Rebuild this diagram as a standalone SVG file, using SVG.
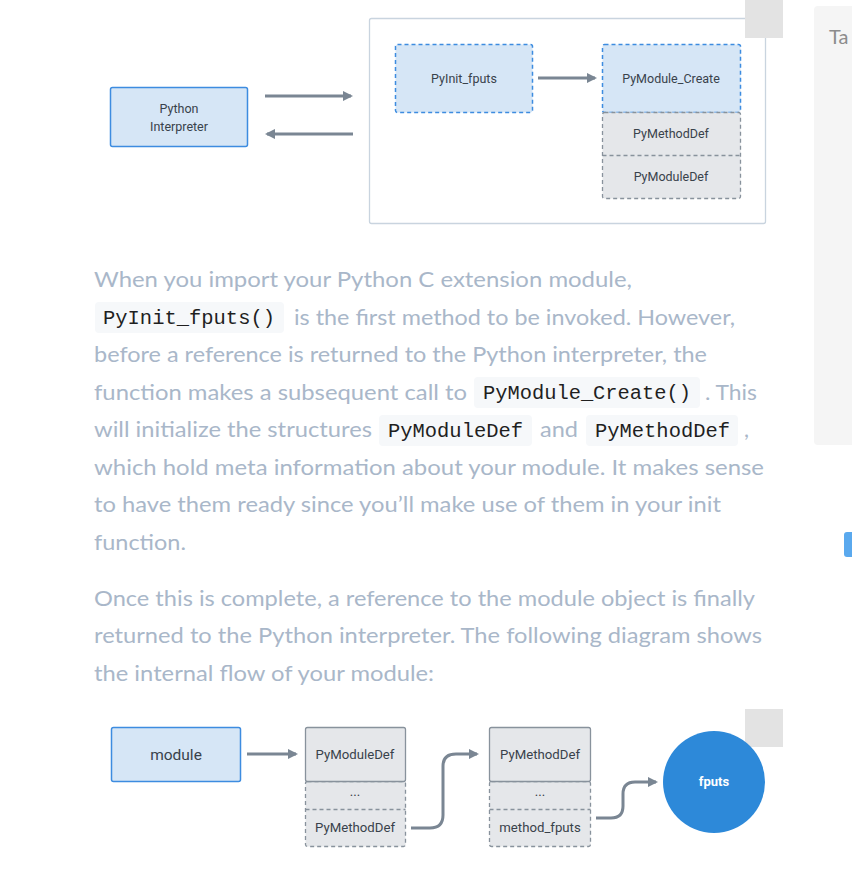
<svg xmlns="http://www.w3.org/2000/svg" width="852" height="873" viewBox="0 0 852 873">
<style>
.p{font-family:Lato,"Source Sans Pro","Liberation Sans",sans-serif;font-size:22px;fill:#a9b7c9}
.c{font-family:"Liberation Mono","DejaVu Sans Mono",monospace;font-size:20px;fill:#1f1f1f}
.cb{fill:#f6f8fa}
.t{font-family:Roboto,"Liberation Sans",sans-serif;font-size:12.5px;fill:#39424b;text-anchor:middle}
.b{font-family:Roboto,"Liberation Sans",sans-serif;font-size:13.2px;fill:#39424b;text-anchor:middle}
.blue{fill:#d6e6f6;stroke:#3d8ce0;stroke-width:1.5}
.bluedash{fill:#d6e6f6;stroke:#3d8ce0;stroke-width:1.5;stroke-dasharray:4 3}
.gray{fill:#e5e7ea;stroke:#88929c;stroke-width:1.3}
.graydash{fill:#e5e7ea;stroke:#88929c;stroke-width:1.3;stroke-dasharray:4 3}
.conn{fill:none;stroke:#7a8693;stroke-width:3;marker-end:url(#ah)}
</style>
<defs>
<marker id="ah" viewBox="0 0 10 10" refX="8" refY="5" markerWidth="3.4" markerHeight="3.4" orient="auto" markerUnits="strokeWidth">
<path d="M0,0 L10,5 L0,10 z" fill="#7a8693"/>
</marker>
</defs>
<rect width="852" height="873" fill="#ffffff"/>

<!-- side panel -->
<rect x="814" y="6" width="50" height="439" rx="4" fill="#f5f5f5"/>
<text x="829" y="44" font-family="Lato,'Liberation Sans',sans-serif" font-size="20" fill="#8c8c8c">Ta</text>
<rect x="844" y="532" width="14" height="25" rx="3" fill="#5aa9ee"/>

<!-- top diagram -->
<g id="container"><rect x="369.5" y="18.5" width="396" height="205" rx="2" fill="#ffffff" stroke="#c9d4df" stroke-width="1.3"/></g>
<rect x="745" y="0" width="38" height="38" fill="#e3e3e3"/>

<g id="python-interpreter">
<rect class="blue" x="110.5" y="87.5" width="137" height="59" rx="2"/>
<text class="t" x="179" y="113">Python</text>
<text class="t" x="179" y="131">Interpreter</text>
</g>
<g id="pyinit-fputs">
<rect class="bluedash" x="395.5" y="44.5" width="137" height="68" rx="2"/>
<text class="t" x="464" y="83">PyInit_fputs</text>
</g>
<g id="pymodule-create">
<rect class="bluedash" x="602.5" y="44.5" width="138" height="68" rx="2"/>
<text class="t" x="671" y="83">PyModule_Create</text>
</g>
<g id="top-defs">
<rect class="graydash" x="602.5" y="112.5" width="138" height="86" rx="2"/>
<line x1="602.5" y1="155.5" x2="740.5" y2="155.5" stroke="#88929c" stroke-width="1.3" stroke-dasharray="4 3"/>
<text class="t" x="671" y="138">PyMethodDef</text>
<text class="t" x="671" y="181">PyModuleDef</text>
</g>

<g id="connectors-top">
<line class="conn" x1="265" y1="96" x2="351" y2="96"/>
<line class="conn" x1="353" y1="134" x2="267" y2="134"/>
<line class="conn" x1="538" y1="78" x2="595" y2="78"/>
</g>

<!-- paragraph -->
<g id="text">
<text class="p" x="94" y="287" textLength="538" lengthAdjust="spacingAndGlyphs">When you import your Python C extension module,</text>
<rect class="cb" x="95" y="302" width="189" height="31" rx="4"/>
<text class="c" x="103" y="324" textLength="172" lengthAdjust="spacingAndGlyphs">PyInit_fputs()</text>
<text class="p" x="294" y="325" textLength="441" lengthAdjust="spacingAndGlyphs">is the first method to be invoked. However,</text>
<text class="p" x="94" y="362" textLength="613" lengthAdjust="spacingAndGlyphs">before a reference is returned to the Python interpreter, the</text>
<text class="p" x="94" y="400" textLength="373" lengthAdjust="spacingAndGlyphs">function makes a subsequent call to</text>
<rect class="cb" x="474" y="377" width="226" height="31" rx="4"/>
<text class="c" x="483" y="399" textLength="208" lengthAdjust="spacingAndGlyphs">PyModule_Create()</text>
<text class="p" x="705" y="400" textLength="52" lengthAdjust="spacingAndGlyphs">. This</text>
<text class="p" x="94" y="437" textLength="278" lengthAdjust="spacingAndGlyphs">will initialize the structures</text>
<rect class="cb" x="379" y="415" width="153" height="31" rx="4"/>
<text class="c" x="388" y="437" textLength="135" lengthAdjust="spacingAndGlyphs">PyModuleDef</text>
<text class="p" x="540" y="437" textLength="38" lengthAdjust="spacingAndGlyphs">and</text>
<rect class="cb" x="586" y="415" width="152" height="31" rx="4"/>
<text class="c" x="595" y="437" textLength="135" lengthAdjust="spacingAndGlyphs">PyMethodDef</text>
<text class="p" x="744" y="437">,</text>
<text class="p" x="94" y="475" textLength="670" lengthAdjust="spacingAndGlyphs">which hold meta information about your module. It makes sense</text>
<text class="p" x="94" y="512" textLength="627" lengthAdjust="spacingAndGlyphs">to have them ready since you’ll make use of them in your init</text>
<text class="p" x="94" y="550" textLength="92" lengthAdjust="spacingAndGlyphs">function.</text>
<text class="p" x="94" y="606" textLength="661" lengthAdjust="spacingAndGlyphs">Once this is complete, a reference to the module object is finally</text>
<text class="p" x="94" y="643" textLength="668" lengthAdjust="spacingAndGlyphs">returned to the Python interpreter. The following diagram shows</text>
<text class="p" x="94" y="681" textLength="340" lengthAdjust="spacingAndGlyphs">the internal flow of your module:</text>
</g>

<!-- bottom diagram -->
<rect x="745" y="709" width="38" height="38" fill="#e3e3e3"/>

<g id="module">
<rect class="blue" x="111.5" y="727.5" width="129" height="54" rx="2"/>
<text x="176" y="760" font-family="Roboto,'Liberation Sans',sans-serif" font-size="15.5" fill="#39424b" text-anchor="middle">module</text>
</g>
<g id="pymoduledef">
<rect class="graydash" x="305.5" y="781.5" width="100" height="65" rx="2"/>
<line x1="305.5" y1="809.5" x2="405.5" y2="809.5" stroke="#88929c" stroke-width="1.3" stroke-dasharray="4 3"/>
<rect class="gray" x="305.5" y="727.5" width="100" height="54" rx="2"/>
<text class="b" x="355" y="759">PyModuleDef</text>
<text class="b" x="355" y="796">...</text>
<text class="b" x="355" y="832">PyMethodDef</text>
</g>
<g id="pymethoddef">
<rect class="graydash" x="489.5" y="781.5" width="101" height="65" rx="2"/>
<line x1="489.5" y1="809.5" x2="590.5" y2="809.5" stroke="#88929c" stroke-width="1.3" stroke-dasharray="4 3"/>
<rect class="gray" x="489.5" y="727.5" width="101" height="54" rx="2"/>
<text class="b" x="540" y="759">PyMethodDef</text>
<text class="b" x="540" y="796">...</text>
<text class="b" x="540" y="832">method_fputs</text>
</g>
<g id="fputs">
<circle cx="714" cy="782" r="51" fill="#2d89d9"/>
<text x="714" y="786" font-family="Roboto,'Liberation Sans',sans-serif" font-size="13" font-weight="bold" fill="#ffffff" text-anchor="middle">fputs</text>
</g>

<g id="connectors-bottom">
<line class="conn" x1="247" y1="754" x2="296" y2="754"/>
<path class="conn" d="M411,828 H430 Q443,828 443,815 V766 Q443,754 456,754 H477"/>
<path class="conn" d="M596,818 H611 Q623,818 623,806 V794 Q623,782 635,782 H656"/>
</g>
</svg>
